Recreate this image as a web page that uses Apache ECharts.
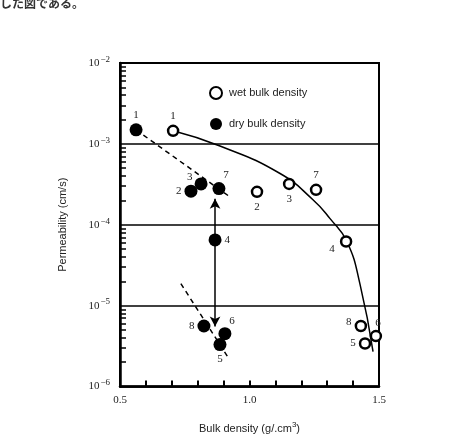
<!DOCTYPE html>
<html>
<head>
<meta charset="utf-8">
<script src="https://cdn.jsdelivr.net/npm/echarts@6/dist/echarts.min.js"></script>
<style>
	html, body { margin: 0; padding: 0; background: #fff; }
	#chart { width: 460px; height: 439px; }
</style>
</head>
<body>
<div id="chart"></div>
<script>
// wet bulk density samples (open circles)
const wetIds = ['1', '2', '3', '7', '4', '8', '6', '5']
const wetX = [0.705, 1.029, 1.153, 1.257, 1.373, 1.43, 1.488, 1.446]
const wetY = [1.45e-3, 2.55e-4, 3.2e-4, 2.7e-4, 6.2e-5, 5.6e-6, 4.2e-6, 3.4e-6]

// dry bulk density samples (filled circles)
const dryIds = ['1', '2', '3', '7', '4', '8', '6', '5']
const dryX = [0.562, 0.774, 0.813, 0.882, 0.867, 0.824, 0.905, 0.886]
const dryY = [1.49e-3, 2.6e-4, 3.2e-4, 2.8e-4, 6.5e-5, 5.6e-6, 4.5e-6, 3.3e-6]

// hand drawn trend curve through the wet points
const curveX = [0.705, 0.886, 1.118, 1.245, 1.311, 1.376, 1.427, 1.477]
const curveY = [1.45e-3, 9.4e-4, 4.3e-4, 2.04e-4, 1.19e-4, 6.2e-5, 1.82e-5, 2.7e-6]

// dashed guide lines for dry points
const dashUpperX = [0.562, 0.917]
const dashUpperY = [1.49e-3, 2.3e-4]
const dashLowerX = [0.735, 0.917]
const dashLowerY = [1.87e-5, 2.3e-6]

// double arrow
const arrowX = 0.867
const arrowY = [2.1e-4, 5.5e-6]

const xTickLabels = ['0.5', '1.0', '1.5']

// label placement per point (style only)
const wetLabelPos = { '1': 'top', '2': 'bottom', '3': 'bottom', '7': 'top', '4': 'left', '8': 'left', '6': 'top', '5': 'left' }
const dryLabelPos = { '1': 'top', '2': 'left', '3': 'left', '7': 'top', '4': 'right', '8': 'left', '6': 'top', '5': 'bottom' }
const wetLabelOffset = { '4': [-2, 8], '6': [2, 2], '8': [0, -4] }
const dryLabelOffset = { '3': [1, -7], '7': [7, 2], '6': [7, 2] }

const font = '"Liberation Sans", sans-serif'
const serif = '"Liberation Serif", serif'

const pairs = (xs, ys) => xs.map((x, i) => [x, ys[i]])

const pointData = (ids, xs, ys, posMap, offMap) => ids.map((id, i) => ({
	value: [xs[i], ys[i]],
	label: {
		show: true,
		formatter: id,
		position: posMap[id],
		offset: offMap[id] || [0, 0],
		distance: 3,
		fontSize: 11,
		fontFamily: serif,
		color: '#222'
	}
}))

const chart = echarts.init(document.getElementById('chart'))

chart.setOption({
	animation: false,
	backgroundColor: '#fff',
	grid: { left: 120, top: 63, right: 81, bottom: 52 },
	legend: {
		orient: 'vertical',
		left: 204,
		top: 81,
		itemGap: 18,
		itemWidth: 12,
		itemHeight: 12,
		data: ['wet bulk density', 'dry bulk density'],
		textStyle: { fontFamily: font, fontSize: 11, color: '#222', padding: [0, 0, 0, 2] }
	},
	graphic: [{
		type: 'text',
		left: 0,
		top: -3,
		style: { text: 'した図である。', font: 'bold 12px "Noto Sans CJK JP"', fill: '#333' }
	}],
	xAxis: {
		type: 'value',
		min: 0.5,
		max: 1.5,
		interval: 0.1,
		name: 'Bulk density (g/.cm{s|3})',
		nameLocation: 'middle',
		nameGap: 34,
		nameTextStyle: {
			fontFamily: font, fontSize: 11, color: '#222',
			rich: { s: { fontSize: 8, verticalAlign: 'top', padding: [0, 0, 8, 0], fontFamily: font, color: '#222' } }
		},
		axisLine: { show: true, lineStyle: { color: '#000', width: 2.5 } },
		axisTick: { show: true, inside: true, length: 6, lineStyle: { color: '#000', width: 2 } },
		axisLabel: {
			fontFamily: serif, fontSize: 11, color: '#222', margin: 8,
			formatter: v => {
				const s = v.toFixed(1)
				return xTickLabels.includes(s) ? s : ''
			}
		},
		splitLine: { show: false }
	},
	yAxis: [{
		type: 'log',
		logBase: 10,
		min: 1e-6,
		max: 1e-2,
		name: 'Permeability (cm/s)',
		nameLocation: 'middle',
		nameGap: 52,
		nameTextStyle: { fontFamily: font, fontSize: 11, color: '#222' },
		axisLine: { show: true, lineStyle: { color: '#000', width: 2.5 } },
		axisTick: { show: false, inside: true },
		minorTick: { show: true, splitNumber: 9, length: 6, lineStyle: { color: '#000', width: 1.5 } },
		axisLabel: {
			fontFamily: serif, fontSize: 11, color: '#222', margin: 10,
			formatter: v => '10{s|−' + Math.round(-Math.log10(v)) + '}',
			rich: { s: { fontSize: 9, verticalAlign: 'top', padding: [0, 0, 7, 1], fontFamily: serif, color: '#222' } }
		},
		splitLine: { show: true, lineStyle: { color: '#000', width: 1.5 } }
	}],
	series: [{
		name: 'border',
		type: 'line',
		data: [],
		markArea: {
			silent: true,
			itemStyle: { color: 'transparent', borderColor: '#000', borderWidth: 2 },
			data: [[{ coord: [0.5, 1e-6] }, { coord: [1.5, 1e-2] }]]
		}
	}, {
		name: 'wet curve',
		type: 'line',
		smooth: 0.5,
		symbol: 'none',
		data: pairs(curveX, curveY),
		lineStyle: { color: '#000', width: 1.5 },
		z: 2
	}, {
		name: 'dash upper',
		type: 'line',
		symbol: 'none',
		data: pairs(dashUpperX, dashUpperY),
		lineStyle: { color: '#000', width: 1.5, type: [5, 4] },
		z: 2
	}, {
		name: 'dash lower',
		type: 'line',
		symbol: 'none',
		data: pairs(dashLowerX, dashLowerY),
		lineStyle: { color: '#000', width: 1.5, type: [5, 4] },
		z: 2
	}, {
		name: 'arrow',
		type: 'line',
		data: [],
		markLine: {
			silent: true,
			symbol: ['arrow', 'arrow'],
			symbolSize: [8, 10],
			label: { show: false },
			lineStyle: { color: '#000', width: 1.5, type: 'solid' },
			data: [[{ coord: [arrowX, arrowY[0]] }, { coord: [arrowX, arrowY[1]] }]]
		}
	}, {
		name: 'wet bulk density',
		type: 'scatter',
		symbol: 'circle',
		symbolSize: 10,
		itemStyle: { color: '#fff', borderColor: '#000', borderWidth: 2.5, opacity: 1 },
		data: pointData(wetIds, wetX, wetY, wetLabelPos, wetLabelOffset),
		z: 5
	}, {
		name: 'dry bulk density',
		type: 'scatter',
		symbol: 'circle',
		symbolSize: 13,
		itemStyle: { color: '#000', opacity: 1 },
		data: pointData(dryIds, dryX, dryY, dryLabelPos, dryLabelOffset),
		z: 5
	}]
})
</script>
</body>
</html>
